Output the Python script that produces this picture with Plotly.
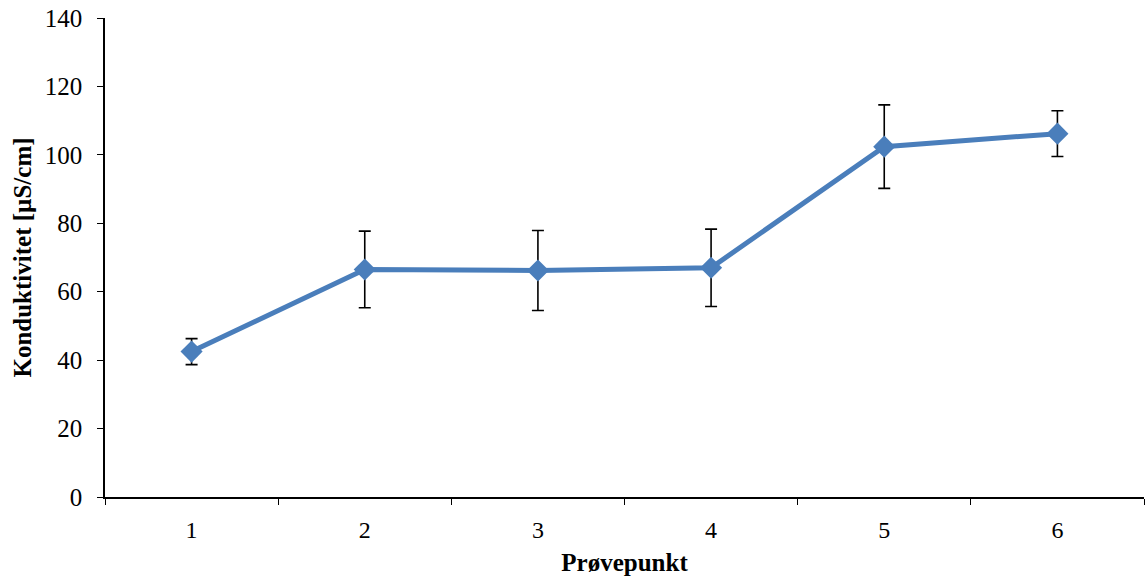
import plotly.graph_objects as go

categories = ["1", "2", "3", "4", "5", "6"]
values = [42.5, 66.5, 66.2, 67.0, 102.4, 106.2]
errors = [3.8, 11.2, 11.7, 11.3, 12.2, 6.7]
y_ticks = [0, 20, 40, 60, 80, 100, 120, 140]

font = "Liberation Serif, Times New Roman, serif"

fig = go.Figure(go.Scatter(
    x=categories, y=values, mode="lines+markers",
    line=dict(color="#4a7ebb", width=5),
    marker=dict(symbol="diamond", size=17, color="#4a7ebb"),
    error_y=dict(type="data", array=errors, visible=True, color="black", thickness=1.6, width=6),
))

fig.update_layout(
    width=1145, height=583,
    margin=dict(l=105, r=1, t=18, b=86),
    plot_bgcolor="white", paper_bgcolor="white",
    showlegend=False,
    font=dict(family=font, size=24, color="black"),
    xaxis=dict(
        type="category", range=[-0.5, 5.5], tickson="boundaries",
        ticks="outside", ticklen=6, tickcolor="black", tickwidth=1,
        showline=True, linecolor="black", linewidth=1.5, showgrid=False,
        ticklabelstandoff=10,
        title=dict(text="<b>Prøvepunkt</b>", font=dict(family=font, size=25), standoff=12),
        tickfont=dict(family=font, size=24),
    ),
    yaxis=dict(
        range=[0, 140], tickvals=y_ticks, ticks="outside", ticklen=6,
        tickcolor="black", tickwidth=1,
        showline=True, linecolor="black", linewidth=1.5, showgrid=False, zeroline=False,
        ticklabelstandoff=10,
        title=dict(text="<b>Konduktivitet [µS/cm]</b>", font=dict(family=font, size=25), standoff=6),
        tickfont=dict(family=font, size=25),
    ),
)

fig.write_html("out.html")
